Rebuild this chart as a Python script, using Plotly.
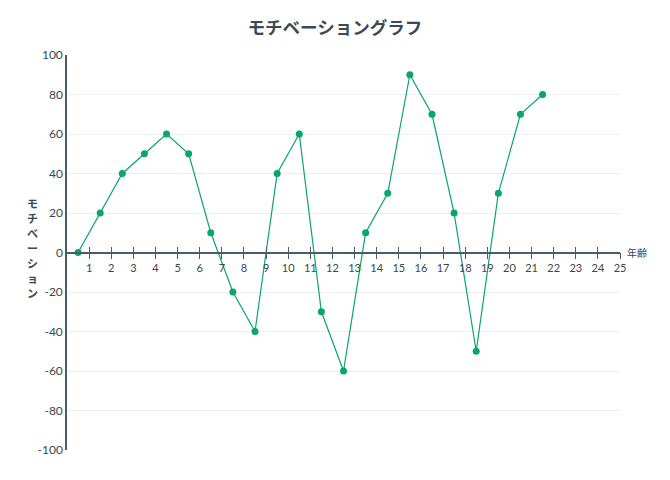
import plotly.graph_objects as go

# age (x) and motivation (y)
ages = [0.5, 1.5, 2.5, 3.5, 4.5, 5.5, 6.5, 7.5, 8.5, 9.5, 10.5,
        11.5, 12.5, 13.5, 14.5, 15.5, 16.5, 17.5, 18.5, 19.5, 20.5, 21.5]
motivation = [0, 20, 40, 50, 60, 50, 10, -20, -40, 40, 60,
              -30, -60, 10, 30, 90, 70, 20, -50, 30, 70, 80]
age_ticks = list(range(1, 26))
y_ticks = list(range(-100, 101, 20))
y_labels = [str(v) for v in y_ticks]
y_title = "モチベーション"

FONT = "Lato, 'Noto Sans CJK JP', sans-serif"
JP = "'Noto Sans CJK JP', sans-serif"
GREEN = "#0aa56a"
AXIS = "#4b5b68"

fig = go.Figure()
fig.add_trace(go.Scatter(
    x=ages, y=motivation, mode="lines+markers",
    line=dict(color=GREEN, width=1.2),
    marker=dict(color=GREEN, size=7),
    showlegend=False, hoverinfo="x+y",
))
# dummy trace so the inside-ticks axis gets drawn
fig.add_trace(go.Scatter(x=[0, 25], y=[0, 0], xaxis="x2", mode="none",
                         showlegend=False, hoverinfo="skip"))

fig.update_layout(
    width=670, height=480,
    margin=dict(l=59, r=58, t=47, b=38, autoexpand=False),
    paper_bgcolor="white", plot_bgcolor="white",
    font=dict(family=FONT, color="#3a4651", size=12),
    title=dict(text="<b>モチベーショングラフ</b>", x=0.488, xanchor="center",
               y=0.972, yanchor="top",
               font=dict(size=17.5, color="#3a4a56", family=JP)),
    xaxis=dict(
        range=[0, 25], tickvals=age_ticks, ticks="outside", ticklen=6,
        tickcolor=AXIS, tickwidth=1.2, showgrid=False, zeroline=False,
        showline=True, linecolor=AXIS, linewidth=1.5,
        anchor="free", position=0.5, automargin=False,
        tickfont=dict(size=11, color="#3a4651"),
    ),
    xaxis2=dict(
        range=[0, 25], tickvals=age_ticks, ticks="inside", ticklen=6,
        tickcolor=AXIS, tickwidth=1.2, showgrid=False, zeroline=False,
        showline=False, showticklabels=False, overlaying="x",
        anchor="free", position=0.5, automargin=False,
    ),
    yaxis=dict(
        range=[-100, 100], tickvals=y_ticks, ticktext=y_labels, showgrid=True,
        gridcolor="#efefef", gridwidth=1, zeroline=False, automargin=False,
        showline=True, linecolor=AXIS, linewidth=1.5, ticks="",
        tickfont=dict(size=12, color="#3a4651"),
    ),
)
# vertical y-axis title, one upright character per annotation
n = len(y_title)
step = 15
for i, ch in enumerate(y_title):
    fig.add_annotation(text="<b>" + ch + "</b>", x=0, xref="paper", y=0, yref="y",
                       xanchor="center", yanchor="middle", xshift=-35,
                       yshift=(n - 1) / 2 * step - i * step + 5, showarrow=False,
                       borderpad=0, font=dict(size=11, color="#3a4651", family=JP))
fig.add_annotation(text="年齢", x=1.0, xref="paper", y=0, yref="y",
                   xanchor="left", yanchor="middle", xshift=5, showarrow=False,
                   font=dict(size=10, color="#3a4651", family=JP))

fig.write_html("out.html")
